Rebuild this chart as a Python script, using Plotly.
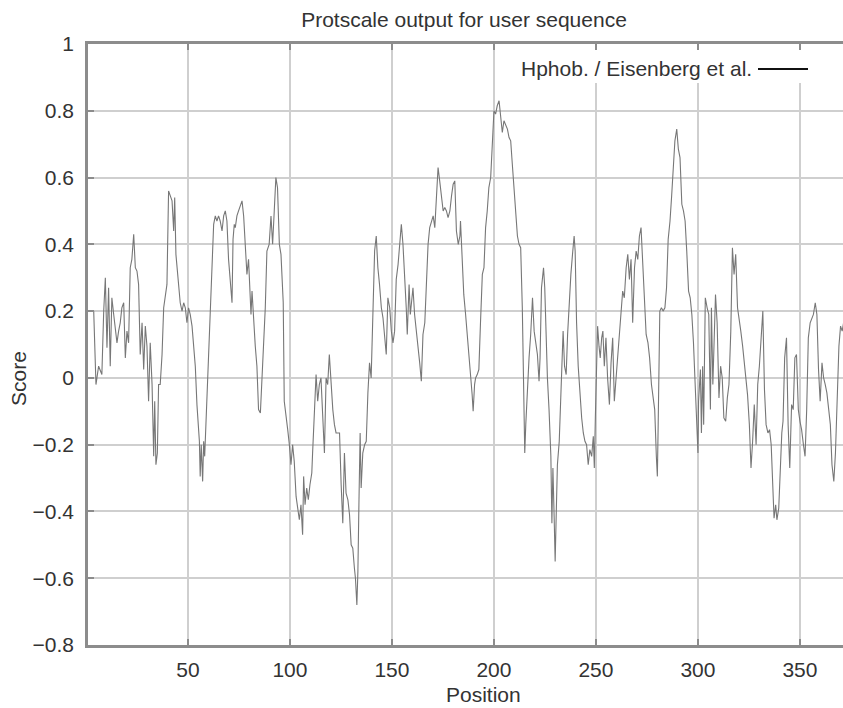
import plotly.graph_objects as go

# ---- data (position, score) ----
pos_a = [3.8, 4.2, 4.9, 6.2, 7.8, 8.7, 9.5, 10.3, 11.1, 11.9,
         12.7, 13.6, 14.4, 15.2, 16.0, 16.8, 17.6, 18.5, 19.3, 20.1,
         20.9, 21.7, 22.5, 23.4, 24.2, 25.0, 25.8, 26.6, 27.5, 28.3,
         29.1, 29.9, 30.7, 31.5, 32.4, 33.2, 33.7, 34.3, 35.0, 35.6,
         36.4, 37.3, 38.1, 38.9, 39.7, 40.5, 42.2, 43.0, 43.5, 44.1,
         44.6, 45.4, 46.2, 47.1, 47.9, 48.7, 49.5, 50.3, 51.1, 52.0,
         52.8, 53.6, 54.4, 54.9, 55.6, 56.0, 56.5, 57.2, 57.7, 58.2,
         58.8, 59.3, 60.1, 60.9, 61.8, 62.6, 63.4, 64.2, 65.0, 65.8,
         66.7, 67.5, 68.3, 69.1, 69.9, 70.8, 71.6, 72.1, 72.7, 73.2,
         74.0, 74.8, 75.7, 76.5, 77.3, 78.1, 78.9, 79.7, 80.2, 80.9,
         81.4, 82.2, 83.0, 83.8, 84.6, 85.5, 86.3, 87.1, 87.9, 88.7]
score_a = [0.20, 0.095, -0.02, 0.035, 0.01, 0.20, 0.30, 0.09, 0.27, 0.035,
           0.24, 0.19, 0.14, 0.105, 0.14, 0.165, 0.21, 0.225, 0.06, 0.14,
           0.105, 0.33, 0.355, 0.43, 0.33, 0.32, 0.28, 0.07, 0.165, 0.025,
           0.155, 0.095, -0.07, 0.105, -0.02, -0.235, -0.07, -0.26, -0.225, -0.02,
           -0.02, 0.07, 0.21, 0.24, 0.28, 0.56, 0.53, 0.44, 0.54, 0.37,
           0.33, 0.26, 0.225, 0.20, 0.225, 0.21, 0.165, 0.21, 0.19, 0.155,
           0.095, 0.035, -0.08, -0.12, -0.19, -0.295, -0.20, -0.31, -0.19, -0.235,
           -0.14, -0.02, 0.095, 0.21, 0.37, 0.46, 0.485, 0.47, 0.485, 0.47,
           0.44, 0.485, 0.50, 0.47, 0.355, 0.28, 0.225, 0.415, 0.46, 0.45,
           0.485, 0.50, 0.52, 0.53, 0.485, 0.38, 0.31, 0.355, 0.27, 0.19,
           0.26, 0.165, 0.095, 0.035, -0.095, -0.105, 0.01, 0.14, 0.21, 0.38]

pos_b = [89.8, 90.7, 91.5, 92.3, 93.1, 93.9, 94.8, 95.6, 96.1, 96.7,
         97.2, 98.0, 98.9, 99.7, 100.5, 101.3, 102.1, 103.0, 103.8, 104.6,
         105.4, 106.2, 106.7, 107.4, 108.2, 109.0, 109.8, 110.7, 111.1, 112.0,
         112.8, 113.6, 114.4, 115.2, 116.1, 116.9, 117.7, 118.5, 119.3, 120.2,
         121.0, 121.8, 122.6, 123.4, 124.3, 125.1, 125.9, 126.7, 127.5, 128.4,
         129.2, 130.0, 130.8, 131.6, 132.1, 132.8, 133.3, 133.8, 134.4, 134.9,
         135.7, 136.6, 137.4, 138.2, 139.0, 139.8, 140.7, 141.5, 142.3, 143.1,
         143.9, 144.8, 145.6, 146.4, 147.2, 148.0, 148.9, 149.7, 150.5, 151.3,
         152.1, 153.0, 153.8, 154.6, 155.4, 156.2, 157.0, 157.5, 158.4, 159.0,
         159.7, 160.3, 161.1, 162.0, 162.8, 163.6, 164.4, 165.2, 166.1, 166.9,
         167.7, 168.5, 169.3, 170.2, 171.0, 171.8, 172.6, 173.4, 174.3, 175.1,
         175.9, 176.7, 177.5, 178.4, 179.2, 180.0, 180.8, 181.6, 182.5, 183.3]
score_b = [0.40, 0.485, 0.40, 0.50, 0.60, 0.57, 0.40, 0.37, 0.32, 0.225,
           -0.07, -0.105, -0.155, -0.20, -0.26, -0.20, -0.25, -0.355, -0.39, -0.425,
           -0.38, -0.47, -0.295, -0.38, -0.33, -0.365, -0.32, -0.285, -0.225, -0.095,
           0.01, -0.07, -0.02, 0.0, -0.14, -0.225, 0.0, -0.02, 0.07, -0.035,
           -0.095, -0.14, -0.165, -0.165, -0.165, -0.32, -0.435, -0.225, -0.345, -0.365,
           -0.41, -0.50, -0.51, -0.57, -0.60, -0.68, -0.58, -0.38, -0.165, -0.33,
           -0.225, -0.20, -0.19, -0.045, 0.045, 0.0, 0.21, 0.38, 0.425, 0.33,
           0.28, 0.21, 0.18, 0.12, 0.07, 0.24, 0.21, 0.14, 0.105, 0.14,
           0.295, 0.34, 0.415, 0.46, 0.40, 0.32, 0.21, 0.13, 0.28, 0.19,
           0.24, 0.27, 0.19, 0.14, 0.105, 0.045, -0.01, 0.13, 0.165, 0.28,
           0.40, 0.45, 0.47, 0.485, 0.45, 0.53, 0.63, 0.59, 0.53, 0.50,
           0.51, 0.50, 0.48, 0.50, 0.545, 0.58, 0.59, 0.44, 0.40, 0.425]

pos_c = [183.6, 184.4, 185.2, 186.1, 186.9, 187.7, 188.5, 189.3, 189.8, 190.5,
         191.0, 191.8, 192.6, 193.4, 194.3, 195.1, 195.9, 196.7, 197.5, 198.4,
         199.2, 200.0, 200.8, 201.6, 202.5, 203.3, 204.1, 204.9, 205.7, 206.6,
         207.4, 208.2, 209.0, 209.8, 210.7, 211.5, 212.3, 213.1, 213.9, 214.4,
         215.1, 215.6, 216.4, 217.2, 218.0, 218.9, 219.7, 220.5, 221.3, 222.1,
         222.6, 223.3, 224.3, 224.9, 225.6, 226.2, 227.0, 227.9, 228.4, 228.9,
         229.5, 230.0, 230.5, 231.1, 232.0, 232.8, 233.3, 233.9, 234.6, 235.4,
         236.1, 236.9, 237.7, 238.5, 239.3, 239.8, 240.5, 241.3, 242.1, 243.0,
         243.8, 244.6, 245.4, 246.2, 247.0, 247.9, 248.7, 249.2, 249.7, 250.2,
         250.8, 251.5, 252.1, 252.8, 253.4, 254.1, 254.9, 255.7, 256.6, 257.4,
         258.2, 259.0, 259.8, 260.7, 261.5, 262.3, 263.1, 263.9, 264.8, 265.6,
         266.4, 267.2, 268.0, 268.9, 269.7, 270.5, 271.3, 272.1, 273.0, 273.8,
         274.6]
score_c = [0.47, 0.355, 0.25, 0.19, 0.12, 0.06, 0.01, -0.05, -0.10, -0.02,
           0.0, 0.01, 0.025, 0.165, 0.31, 0.33, 0.45, 0.50, 0.57, 0.60,
           0.71, 0.80, 0.79, 0.815, 0.83, 0.79, 0.735, 0.77, 0.76, 0.745,
           0.72, 0.71, 0.64, 0.57, 0.50, 0.425, 0.40, 0.39, 0.21, -0.02,
           -0.225, -0.14, -0.02, 0.06, 0.13, 0.24, 0.14, 0.095, 0.07, -0.01,
           0.06, 0.27, 0.33, 0.27, 0.095, 0.0, -0.095, -0.235, -0.435, -0.27,
           -0.415, -0.55, -0.415, -0.26, -0.19, -0.07, 0.045, 0.14, 0.035, 0.01,
           0.13, 0.24, 0.31, 0.37, 0.425, 0.38, 0.165, 0.035, -0.05, -0.12,
           -0.165, -0.19, -0.20, -0.26, -0.215, -0.235, -0.175, -0.27, -0.12, 0.045,
           0.155, 0.095, 0.06, 0.12, 0.14, 0.035, 0.12, 0.0, -0.08, 0.045,
           0.12, -0.07, 0.0, 0.07, 0.14, 0.21, 0.26, 0.24, 0.33, 0.37,
           0.295, 0.355, 0.165, 0.33, 0.38, 0.355, 0.425, 0.45, 0.33, 0.24,
           0.13]

pos_d = [275.5, 276.3, 277.2, 278.0, 278.8, 279.6, 280.1, 280.5, 281.3, 282.1,
         282.9, 283.8, 284.6, 285.4, 286.3, 287.1, 287.9, 288.7, 289.6, 290.4,
         291.2, 292.1, 292.9, 293.7, 294.5, 295.4, 296.2, 297.0, 297.8, 298.7,
         299.5, 300.0, 300.3, 301.2, 301.7, 302.3, 302.8, 303.6, 304.5, 305.3,
         306.1, 306.6, 307.3, 307.9, 308.6, 309.4, 310.3, 311.1, 311.9, 312.7,
         313.6, 314.4, 315.2, 316.1, 316.9, 317.7, 318.5, 319.4, 320.2, 321.0,
         321.9, 322.7, 323.5, 324.3, 325.2, 326.0, 326.8, 327.6, 328.5, 329.3,
         330.1, 331.0, 331.8, 332.6, 333.4, 334.3, 335.1, 335.9, 336.8, 337.3,
         338.1, 338.7, 339.6, 340.4, 341.1, 341.7, 342.5, 343.4, 344.2, 345.0,
         345.9, 346.7, 347.5, 348.3, 349.2, 350.0, 350.8, 351.7, 352.5, 353.3,
         354.1, 355.0, 355.8, 356.6, 357.5, 358.3, 359.1, 359.9, 360.8, 361.6,
         362.4, 363.2, 364.1, 364.9, 365.7, 366.6, 367.4, 368.2, 369.1, 369.9,
         370.7, 371.4]
score_d = [0.105, 0.06, -0.02, -0.06, -0.095, -0.235, -0.295, -0.14, 0.20, 0.21,
           0.20, 0.21, 0.27, 0.415, 0.47, 0.545, 0.64, 0.71, 0.745, 0.685,
           0.66, 0.52, 0.50, 0.47, 0.38, 0.26, 0.24, 0.19, 0.105, -0.02,
           -0.14, -0.225, -0.07, 0.025, -0.165, 0.035, -0.14, 0.24, 0.21, 0.19,
           -0.095, 0.21, -0.02, 0.14, 0.25, 0.165, -0.06, 0.035, 0.0, -0.12,
           -0.13, -0.06, -0.02, 0.14, 0.39, 0.31, 0.37, 0.21, 0.165, 0.14,
           0.095, 0.045, 0.01, -0.05, -0.14, -0.27, -0.19, -0.08, -0.20, -0.02,
           0.035, 0.14, 0.20, -0.035, -0.14, -0.165, -0.155, -0.20, -0.32, -0.42,
           -0.38, -0.425, -0.39, -0.26, -0.165, -0.13, 0.06, 0.12, -0.14, -0.27,
           -0.08, -0.095, 0.06, 0.07, -0.095, -0.13, -0.155, -0.20, -0.235, -0.095,
           0.12, 0.165, 0.18, 0.19, 0.225, 0.19, 0.025, -0.07, 0.045, 0.0,
           -0.02, -0.045, -0.095, -0.14, -0.26, -0.31, -0.225, -0.07, 0.095, 0.155,
           0.14, 0.165]

x_tick_vals = [50, 100, 150, 200, 250, 300, 350]
x_tick_text = ["50", "100", "150", "200", "250", "300", "350"]
y_tick_vals = [-0.8, -0.6, -0.4, -0.2, 0, 0.2, 0.4, 0.6, 0.8, 1]
y_tick_text = ["\u22120.8", "\u22120.6", "\u22120.4", "\u22120.2", "0",
               "0.2", "0.4", "0.6", "0.8", "1"]

title_text = "Protscale output for user sequence"
x_title = "Position"
y_title = "Score"
series_name = "Hphob. / Eisenberg et al."

for p, s in ((pos_a, score_a), (pos_b, score_b), (pos_c, score_c), (pos_d, score_d)):
    if len(p) != len(s):
        raise ValueError(f"length mismatch {len(p)} vs {len(s)} starting at {p[0]}")

positions = pos_a + pos_b + pos_c + pos_d
scores = score_a + score_b + score_c + score_d

FONT = "Liberation Sans, Arial, Helvetica, sans-serif"
TXT = "#333333"
FS = 21

# full-window figure; the page margin is removed by a small post script
W, H = 843, 708
ML, MT, MB, MR = 88, 44, 63, 0
PW, PH = W - ML - MR, H - MT - MB  # 755 x 601 plot area


def px_x(px):  # page pixel -> paper x
    return (px - ML) / PW


def px_y(py):  # page pixel -> paper y
    return (H - MB - py) / PH


fig = go.Figure()
fig.add_trace(go.Scatter(
    x=positions, y=scores, mode="lines", name=series_name,
    line=dict(color="#777777", width=1.1), showlegend=False,
    hoverinfo="x+y",
))

axis_common = dict(
    showgrid=True, gridcolor="#cfcfcf", gridwidth=1.5,
    showline=True, linecolor="#8c8c8c", linewidth=2.5,
    ticks="inside", ticklen=6, tickcolor="#8c8c8c", tickwidth=1.5,
    zeroline=False, tickfont=dict(family=FONT, size=FS, color=TXT),
)

fig.update_layout(
    width=W, height=H,
    margin=dict(l=ML, r=MR, t=MT, b=MB, pad=0),
    paper_bgcolor="white", plot_bgcolor="white",
    font=dict(family=FONT, size=FS, color=TXT),
    title=dict(text=title_text, x=px_x(464), xref="paper", xanchor="center",
               y=1 - 20 / H, yref="container", yanchor="middle",
               font=dict(family=FONT, size=FS, color=TXT)),
    xaxis=dict(range=[1, 371.1], tickmode="array", tickvals=x_tick_vals,
               ticktext=x_tick_text, mirror="ticks", ticklabelstandoff=4,
               **axis_common),
    yaxis=dict(range=[-0.8, 1], tickmode="array", tickvals=y_tick_vals,
               ticktext=y_tick_text, mirror=False, ticklabelstandoff=7,
               **axis_common),
    showlegend=False,
)

# legend box (gnuplot-style key: text then line sample), opaque background
fig.add_shape(type="rect", xref="paper", yref="paper",
              x0=px_x(512), x1=px_x(815), y0=px_y(83), y1=px_y(50),
              fillcolor="white", line=dict(width=0), layer="above")
fig.add_shape(type="line", xref="paper", yref="paper",
              x0=px_x(758), x1=px_x(808), y0=px_y(69), y1=px_y(69),
              line=dict(color="#111111", width=2), layer="above")
fig.add_annotation(text=series_name, xref="paper", yref="paper",
                   x=px_x(754), y=px_y(69), xanchor="right", yanchor="middle",
                   showarrow=False, font=dict(family=FONT, size=FS, color=TXT))

fig.add_annotation(text=x_title, xref="paper", yref="paper",
                   x=px_x(483), y=px_y(694),
                   xanchor="center", yanchor="middle", showarrow=False,
                   font=dict(family=FONT, size=FS, color=TXT))
fig.add_annotation(text=y_title, xref="paper", yref="paper",
                   x=px_x(19), y=px_y(379), textangle=-90,
                   xanchor="center", yanchor="middle", showarrow=False,
                   font=dict(family=FONT, size=FS, color=TXT))

page_fix = ("document.documentElement.style.margin='0';"
            "document.documentElement.style.overflow='hidden';"
            "document.body.style.margin='0';"
            "document.body.style.padding='0';"
            "document.body.style.overflow='hidden';")

fig.write_html("out.html", post_script=page_fix,
               config={"displayModeBar": False})
